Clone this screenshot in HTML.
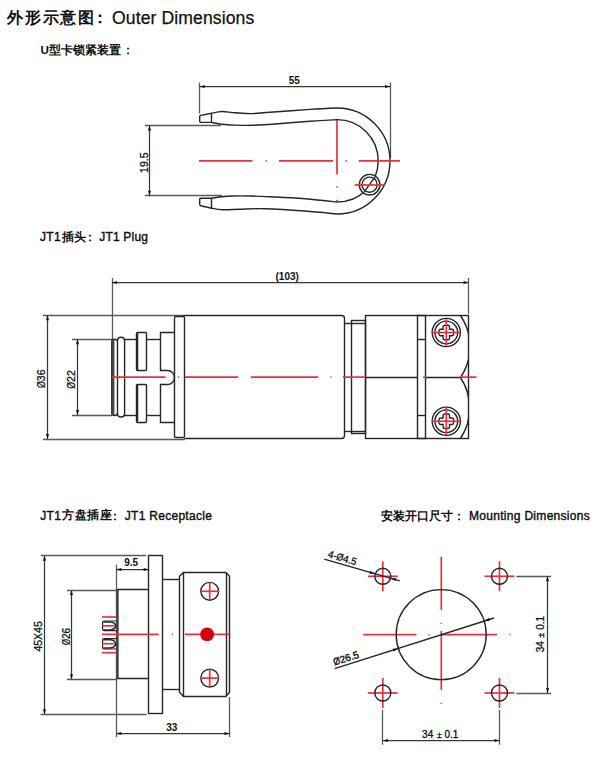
<!DOCTYPE html>
<html><head><meta charset="utf-8">
<style>
html,body{margin:0;padding:0;background:#fff;}
body{width:600px;height:766px;position:relative;overflow:hidden;font-family:"Liberation Sans",sans-serif;}
svg{position:absolute;left:0;top:0;}
</style></head><body>
<svg width="600" height="766" viewBox="0 0 600 766">
<defs>
<marker id="ar" viewBox="0 0 10 6" refX="10" refY="3" markerWidth="5.5" markerHeight="3" orient="auto-start-reverse" markerUnits="userSpaceOnUse"><path d="M0,0 L10,3 L0,6 z" fill="#111"/></marker>
<clipPath id="nutclip"><rect x="360" y="310" width="109" height="135"/></clipPath>
</defs>
<g font-family="Liberation Sans" fill="#111" stroke="#111" stroke-width="0.25">
<text x="6.8" y="22.8" font-size="16" font-weight="bold" stroke-width="0" letter-spacing="1.9">外形示意图</text>
<text x="100.2" y="23" font-size="16" font-weight="bold" stroke-width="0" text-anchor="middle">：</text>
<text x="112" y="24" font-size="17.6" letter-spacing="0.1">Outer Dimensions</text>
<text x="40.5" y="54" font-size="11.6" font-weight="bold" stroke-width="0">U型卡锁紧装置</text>
<text x="128" y="54" font-size="11.6" font-weight="bold" stroke-width="0" text-anchor="middle">：</text>
<text x="40" y="241.2" font-size="12" stroke-width="0.4" letter-spacing="0.3">JT1</text>
<text x="61.5" y="241.3" font-size="11.6" font-weight="bold" stroke-width="0">插头</text>
<text x="90.2" y="241.3" font-size="11.6" font-weight="bold" stroke-width="0" text-anchor="middle">：</text>
<text x="99.2" y="241.2" font-size="12" stroke-width="0.4" letter-spacing="0.2">JT1 Plug</text>
<text x="40.3" y="519.6" font-size="12" stroke-width="0.4" letter-spacing="0.3">JT1</text>
<text x="61.8" y="519.3" font-size="11.9" font-weight="bold" stroke-width="0" letter-spacing="0.75">方盘插座</text>
<text x="115.2" y="519.6" font-size="12" font-weight="bold" stroke-width="0" text-anchor="middle">：</text>
<text x="124.8" y="519.6" font-size="12" stroke-width="0.4" letter-spacing="0.28">JT1 Receptacle</text>
<text x="380.5" y="519.6" font-size="12.4" font-weight="bold" stroke-width="0">安装开口尺寸</text>
<text x="459.2" y="519.6" font-size="12" font-weight="bold" stroke-width="0" text-anchor="middle">：</text>
<text x="469" y="519.6" font-size="12" stroke-width="0.4" letter-spacing="0.3">Mounting Dimensions</text>
</g>
<g fill="none" stroke="#262626" stroke-width="1.4">
<line x1="199.5" y1="82.5" x2="199.5" y2="113.5" stroke="#5a5a5a" stroke-width="1.3"/>
<line x1="390.5" y1="82.5" x2="390.5" y2="158" stroke="#5a5a5a" stroke-width="1.3"/>
<line x1="199.7" y1="86.5" x2="390" y2="86.5" stroke="#383838" stroke-width="1.25" marker-start="url(#ar)" marker-end="url(#ar)"/>
<line x1="145" y1="125.5" x2="221" y2="125.5" stroke="#5a5a5a" stroke-width="1.3"/>
<line x1="145" y1="195.5" x2="222" y2="195.5" stroke="#5a5a5a" stroke-width="1.3"/>
<line x1="149.5" y1="125.5" x2="149.5" y2="195.7" stroke="#383838" stroke-width="1.25" marker-start="url(#ar)" marker-end="url(#ar)"/>
<path d="M337,108 C332.5,108.2 321.2,108.7 310.0,109.4 C298.8,110.1 279.7,111.6 270.0,112.3 C260.3,113.0 257.8,113.5 252.0,113.6 C246.2,113.7 240.0,113.1 235.0,112.8 C230.0,112.5 225.9,111.4 222.0,111.5 C218.1,111.6 213.4,112.9 211.7,113.2 L200.8,115.4 Q199.7,115.6 199.7,116.6 L199.7,121.3 Q199.7,122.4 200.8,122.4 L211.7,122.4 C213.4,122.7 218.1,123.8 222.0,124.2 C225.9,124.7 230.0,124.9 235.0,125.1 C240.0,125.3 245.3,125.5 252.0,125.3 C258.7,125.1 265.3,124.7 275.0,124.0 C284.7,123.3 299.7,122.0 310.0,121.3 C320.3,120.6 332.5,119.9 337.0,119.6 A41,41 0 0 1 337,202 C331.7,201.4 315.3,199.5 305.0,198.7 C294.7,197.9 284.2,197.4 275.0,197.0 C265.8,196.6 257.2,196.2 250.0,196.0 C242.8,195.8 236.7,195.9 232.0,196.0 C227.3,196.1 225.4,196.3 222.0,196.7 C218.6,197.1 213.4,198.0 211.7,198.3 L200.8,198.3 Q199.7,198.3 199.7,199.4 L199.7,204.6 Q199.7,205.7 200.8,205.8 L211.7,208.2 C213.4,208.4 217.3,209.5 222.0,209.7 C226.7,209.9 232.8,209.4 240.0,209.2 C247.2,209.0 254.2,208.4 265.0,208.7 C275.8,209.0 293.0,210.1 305.0,211.0 C317.0,211.9 331.7,213.5 337.0,214.0 A53,53 0 0 0 337,108 Z"/>
<line x1="211.5" y1="113.3" x2="211.5" y2="122"/>
<line x1="211.5" y1="198.3" x2="211.5" y2="208.4"/>
<circle cx="369.6" cy="184.7" r="10.3" fill="#fff"/>
<circle cx="369.6" cy="184.7" r="7.6"/>
<line x1="364.2" y1="191.8" x2="374.8" y2="177.4"/>
</g>
<g stroke="#e8313c" stroke-width="1.7" fill="none">
<line x1="199" y1="160.8" x2="252.5" y2="160.8"/>
<line x1="265.5" y1="160.8" x2="266.8" y2="160.8"/>
<line x1="279" y1="160.8" x2="333" y2="160.8"/>
<line x1="345.5" y1="160.8" x2="346.8" y2="160.8"/>
<line x1="358.7" y1="160.8" x2="400" y2="160.8"/>
<line x1="337" y1="120" x2="337" y2="174.6"/>
<line x1="337" y1="186.3" x2="337" y2="187.6"/>
<line x1="337" y1="199.8" x2="337" y2="201.2"/>
<line x1="354.7" y1="185" x2="384.7" y2="185"/>
</g>
<g fill="none" stroke="#262626" stroke-width="1.4">
<line x1="112.5" y1="278" x2="112.5" y2="339.3" stroke="#5a5a5a" stroke-width="1.3"/>
<line x1="468.5" y1="278" x2="468.5" y2="314" stroke="#5a5a5a" stroke-width="1.3"/>
<line x1="112" y1="282.5" x2="468.6" y2="282.5" stroke="#383838" stroke-width="1.25" marker-start="url(#ar)" marker-end="url(#ar)"/>
<line x1="43" y1="315.5" x2="185" y2="315.5" stroke="#5a5a5a" stroke-width="1.3"/>
<line x1="43" y1="439.5" x2="185" y2="439.5" stroke="#5a5a5a" stroke-width="1.3"/>
<line x1="47.5" y1="315.3" x2="47.5" y2="439" stroke="#383838" stroke-width="1.25" marker-start="url(#ar)" marker-end="url(#ar)"/>
<line x1="72" y1="339.5" x2="112" y2="339.5" stroke="#5a5a5a" stroke-width="1.3"/>
<line x1="72" y1="415.5" x2="112" y2="415.5" stroke="#5a5a5a" stroke-width="1.3"/>
<line x1="77.5" y1="339.3" x2="77.5" y2="415" stroke="#383838" stroke-width="1.25" marker-start="url(#ar)" marker-end="url(#ar)"/>
<path d="M111.8,341.5 Q111.8,339.3 114.6,339.3 Q117.5,339.3 117.5,341.5 L117.5,413 Q117.5,415.5 114.6,415.5 Q111.8,415.5 111.8,413 Z"/>
<rect x="111.8" y="340" width="2.6" height="75" fill="#444" stroke="none"/>
<path d="M117.5,341 Q117.5,337.3 121,337.3 Q124.6,337.3 124.6,341 L124.6,413.5 Q124.6,417 121,417 Q117.5,417 117.5,413.5"/>
<line x1="124.6" y1="339.5" x2="136.5" y2="339.5"/>
<line x1="124.6" y1="415.5" x2="136.5" y2="415.5"/>
<line x1="146.7" y1="339.5" x2="160.5" y2="339.5"/>
<line x1="146.7" y1="415.5" x2="160.5" y2="415.5"/>
<rect x="136.5" y="332.5" width="10.0" height="38.0" rx="1"/>
<rect x="136.5" y="384.5" width="10.0" height="38.0" rx="1"/>
<line x1="137.5" y1="333" x2="137.5" y2="370" stroke-width="1.5"/>
<line x1="137.5" y1="385" x2="137.5" y2="421.5" stroke-width="1.5"/>
<path d="M174.5,332.5 L160.5,332.5 L160.5,370.5 L167.5,370.5 A7,7 0 0 1 167.5,384.5 L160.5,384.5 L160.5,422.5 L174.5,422.5"/>
<rect x="174.5" y="316.5" width="10.0" height="121.0" rx="1.2"/>
<path d="M184.5,315.5 L341.5,315.5 Q344.5,315.5 344.5,318.5 L344.5,435.5 Q344.5,438.5 341.5,438.5 L184.5,438.5"/>
<line x1="345" y1="323.5" x2="365.5" y2="323.5"/>
<line x1="345" y1="431.5" x2="365.5" y2="431.5"/>
<rect x="351.5" y="320.5" width="14.0" height="113.0"/>
<rect x="365.5" y="315.5" width="103.0" height="123.0"/>
<rect x="417.5" y="315.5" width="8.0" height="123.0"/>
<line x1="417" y1="339.5" x2="425.5" y2="339.5"/>
<line x1="417" y1="415.5" x2="425.5" y2="415.5"/>
<line x1="365.2" y1="377.5" x2="417" y2="377.5"/>
<line x1="425.5" y1="377.5" x2="460.4" y2="377.5"/>
<path clip-path="url(#nutclip)" d="M460.4,315.5 A54.8,54.8 0 0 1 460.4,377.5 A54.8,54.8 0 0 1 460.4,438.5"/>
<g id="scr">
<circle cx="446.3" cy="332.5" r="14.1"/>
<circle cx="446.3" cy="332.5" r="11.4"/>
<path d="M443.10,326.80 Q443.10,325.20 444.70,325.20 L447.90,325.20 Q449.50,325.20 449.50,326.80 L449.50,329.30 L452.00,329.30 Q453.60,329.30 453.60,330.90 L453.60,334.10 Q453.60,335.70 452.00,335.70 L449.50,335.70 L449.50,338.20 Q449.50,339.80 447.90,339.80 L444.70,339.80 Q443.10,339.80 443.10,338.20 L443.10,335.70 L440.60,335.70 Q439.00,335.70 439.00,334.10 L439.00,330.90 Q439.00,329.30 440.60,329.30 L443.10,329.30 Z" stroke-width="1.4"/>
</g>
<use href="#scr" transform="translate(0,88.75)"/>
</g>
<g stroke="#e8313c" stroke-width="1.7" fill="none">
<line x1="112" y1="377.1" x2="165.5" y2="377.1"/>
<line x1="178.3" y1="377.1" x2="179.3" y2="377.1"/>
<line x1="185" y1="377.1" x2="238" y2="377.1"/>
<line x1="250.8" y1="377.1" x2="318" y2="377.1"/>
<line x1="330.5" y1="377.1" x2="331.5" y2="377.1"/>
<line x1="343" y1="377.1" x2="364.5" y2="377.1"/>
<line x1="423" y1="377.1" x2="426" y2="377.1"/>
<line x1="460" y1="377.1" x2="476.4" y2="377.1"/>
<line x1="432" y1="332.5" x2="460.4" y2="332.5"/>
<line x1="446.3" y1="319.2" x2="446.3" y2="346.3"/>
<line x1="432" y1="421.25" x2="460.4" y2="421.25"/>
<line x1="446.3" y1="408" x2="446.3" y2="435"/>
</g>
<g fill="none" stroke="#262626" stroke-width="1.4">
<line x1="40.8" y1="555.5" x2="146" y2="555.5" stroke="#5a5a5a" stroke-width="1.3"/>
<line x1="40.5" y1="714.5" x2="146.6" y2="714.5" stroke="#5a5a5a" stroke-width="1.3"/>
<line x1="44.5" y1="555.7" x2="44.5" y2="714.2" stroke="#383838" stroke-width="1.25" marker-start="url(#ar)" marker-end="url(#ar)"/>
<line x1="67" y1="590.5" x2="117" y2="590.5" stroke="#5a5a5a" stroke-width="1.3"/>
<line x1="67" y1="679.5" x2="117" y2="679.5" stroke="#5a5a5a" stroke-width="1.3"/>
<line x1="71.5" y1="590" x2="71.5" y2="679.2" stroke="#383838" stroke-width="1.25" marker-start="url(#ar)" marker-end="url(#ar)"/>
<line x1="116.5" y1="564.7" x2="116.5" y2="737" stroke="#5a5a5a" stroke-width="1.3"/>
<line x1="116.3" y1="569.5" x2="148.7" y2="569.5" stroke="#383838" stroke-width="1.25" marker-start="url(#ar)" marker-end="url(#ar)"/>
<line x1="229.5" y1="697" x2="229.5" y2="737" stroke="#5a5a5a" stroke-width="1.3"/>
<line x1="116.3" y1="733.5" x2="229.5" y2="733.5" stroke="#383838" stroke-width="1.25" marker-start="url(#ar)" marker-end="url(#ar)"/>
<path d="M148.5,589.5 L117.5,589.5 L117.5,678.5 L148.5,678.5"/>
<line x1="117.5" y1="590" x2="117.5" y2="678.5" stroke="#444" stroke-width="2.2"/>
<rect x="148.5" y="555.5" width="14.0" height="158.0"/>
<line x1="162.4" y1="579.5" x2="179.6" y2="579.5"/>
<line x1="162.4" y1="689.5" x2="179.6" y2="689.5"/>
<path d="M183.5,572.5 L225.9,572.5 L229.5,576.3 L229.5,692.3 L225.9,696.5 L183.5,696.5 L179.5,692.3 L179.5,576.3 Z"/>
<line x1="183.5" y1="572.6" x2="183.5" y2="696"/>
<line x1="226.5" y1="572.6" x2="226.5" y2="696"/>
<circle cx="209.7" cy="591.3" r="8.9"/>
<circle cx="209.7" cy="678.1" r="8.9"/>
<path d="M116.2,621 L104,621 Q102.6,621 102.6,622.4 L102.6,629.3 Q102.6,630.7 104,630.7 L116.2,630.7" stroke-width="1.2"/>
<path d="M103.5,622 L110,622 Q115.5,622.5 115.5,625.8 Q115.5,629.5 110,630 L103.5,630" stroke-width="1.6"/>
<path d="M116.2,638.7 L104,638.7 Q102.6,638.7 102.6,640.1 L102.6,647.6 Q102.6,649 104,649 L116.2,649" stroke-width="1.2"/>
<path d="M103.5,639.7 L110,639.7 Q115.5,640.2 115.5,643.7 Q115.5,647.5 110,648 L103.5,648" stroke-width="1.6"/>
</g>
<g stroke="#e8313c" stroke-width="1.7" fill="none">
<line x1="102" y1="617" x2="116.3" y2="617"/>
<line x1="102" y1="652.7" x2="116.3" y2="652.7"/>
<line x1="102" y1="625.8" x2="114" y2="625.8"/>
<line x1="102" y1="643.7" x2="114" y2="643.7"/>
<line x1="102" y1="634.4" x2="158.7" y2="634.4"/>
<line x1="171.9" y1="634.4" x2="172.9" y2="634.4"/>
<line x1="184.8" y1="634.4" x2="229.3" y2="634.4"/>
<line x1="200.6" y1="591.3" x2="219" y2="591.3"/>
<line x1="209.7" y1="582.2" x2="209.7" y2="600.3"/>
<line x1="200.6" y1="678.1" x2="219" y2="678.1"/>
<line x1="209.7" y1="669" x2="209.7" y2="687.1"/>
</g>
<circle cx="207.1" cy="634.4" r="6.9" fill="#d5000f"/>
<g stroke="#e8313c" stroke-width="1.7" fill="none">
<line x1="367.8" y1="576.3" x2="397.8" y2="576.3"/>
<line x1="382.8" y1="561.3" x2="382.8" y2="591.3"/>
<line x1="484.5" y1="576.3" x2="514.5" y2="576.3"/>
<line x1="499.5" y1="561.3" x2="499.5" y2="591.3"/>
<line x1="367.8" y1="693" x2="397.8" y2="693"/>
<line x1="382.8" y1="678" x2="382.8" y2="708"/>
<line x1="484.5" y1="693" x2="514.5" y2="693"/>
<line x1="499.5" y1="678" x2="499.5" y2="708"/>
<line x1="441.3" y1="556.7" x2="441.3" y2="610"/>
<line x1="441.3" y1="622.8" x2="441.3" y2="623.8"/>
<line x1="441.3" y1="631" x2="441.3" y2="690"/>
<line x1="441.3" y1="702.8" x2="441.3" y2="703.8"/>
<line x1="363.2" y1="634.7" x2="416.5" y2="634.7"/>
<line x1="428.5" y1="634.7" x2="429.5" y2="634.7"/>
<line x1="440" y1="634.7" x2="497" y2="634.7"/>
<line x1="509.5" y1="634.7" x2="510.5" y2="634.7"/>
</g>
<g fill="none" stroke="#262626" stroke-width="1.4">
<circle cx="382.8" cy="576.3" r="8"/>
<circle cx="499.5" cy="576.3" r="8"/>
<circle cx="382.8" cy="693" r="8"/>
<circle cx="499.5" cy="693" r="8"/>
<circle cx="441.2" cy="634.6" r="45"/>
<line x1="324.2" y1="559.2" x2="399.7" y2="580.8"/>
<line x1="334.7" y1="668.7" x2="494" y2="618"/>
<path d="M375.20,573.80 L369.53,573.63 L370.30,570.94 Z" fill="#111" stroke="none"/>
<path d="M390.60,578.20 L396.27,578.37 L395.50,581.06 Z" fill="#111" stroke="none"/>
<path d="M398.40,648.40 L393.58,651.40 L392.73,648.73 Z" fill="#111" stroke="none"/>
<path d="M484.10,621.10 L488.92,618.10 L489.77,620.77 Z" fill="#111" stroke="none"/>
<line x1="516.4" y1="576.5" x2="551.1" y2="576.5" stroke="#5a5a5a" stroke-width="1.3"/>
<line x1="516.4" y1="693.5" x2="551.1" y2="693.5" stroke="#5a5a5a" stroke-width="1.3"/>
<line x1="547.5" y1="576.3" x2="547.5" y2="693" stroke="#383838" stroke-width="1.25" marker-start="url(#ar)" marker-end="url(#ar)"/>
<line x1="382.5" y1="710" x2="382.5" y2="744.7" stroke="#5a5a5a" stroke-width="1.3"/>
<line x1="499.5" y1="710" x2="499.5" y2="744.7" stroke="#5a5a5a" stroke-width="1.3"/>
<line x1="382.8" y1="740.5" x2="499.5" y2="740.5" stroke="#383838" stroke-width="1.25" marker-start="url(#ar)" marker-end="url(#ar)"/>
</g>
<g font-family="Liberation Sans" font-weight="bold" font-size="10" fill="#111" text-anchor="middle">
<text x="294.3" y="84">55</text>
<text x="287.2" y="279.5">(103)</text>
<text x="131.2" y="565.8">9.5</text>
<text x="171.8" y="730.5">33</text>
</g>
<g font-family="Liberation Sans" font-size="10.5" fill="#111" stroke="#111" stroke-width="0.3" text-anchor="middle">
<text transform="translate(147.5,162.7) rotate(-90)">19.5</text>
<text transform="translate(45.2,378.7) rotate(-90)"><tspan textLength="6.8" lengthAdjust="spacingAndGlyphs">Ø</tspan>36</text>
<text transform="translate(74.8,379.5) rotate(-90)"><tspan textLength="6.8" lengthAdjust="spacingAndGlyphs">Ø</tspan>22</text>
<text transform="translate(42,636.4) rotate(-90)">45X45</text>
<text transform="translate(69.6,636.4) rotate(-90)" font-size="10"><tspan textLength="6" lengthAdjust="spacingAndGlyphs">Ø</tspan>26</text>
</g>
<g font-family="Liberation Sans" font-size="10" fill="#111" stroke="#111" stroke-width="0.3">
<g transform="translate(422.1,738.3)"><text x="0">34</text><text x="14.8" font-size="8.5">±</text><text x="22.4">0.1</text></g>
<g transform="translate(544.2,652.2) rotate(-90)"><text x="0">34</text><text x="14.8" font-size="8.5">±</text><text x="22.4">0.1</text></g>
<text transform="translate(327.3,557) rotate(16.5)">4-<tspan textLength="6.8" lengthAdjust="spacingAndGlyphs">Ø</tspan>4.5</text>
<text transform="translate(334.6,665.5) rotate(-17.7)" stroke-width="0.4"><tspan textLength="6.8" lengthAdjust="spacingAndGlyphs">Ø</tspan>26.5</text>
</g>
</svg>
</body></html>
